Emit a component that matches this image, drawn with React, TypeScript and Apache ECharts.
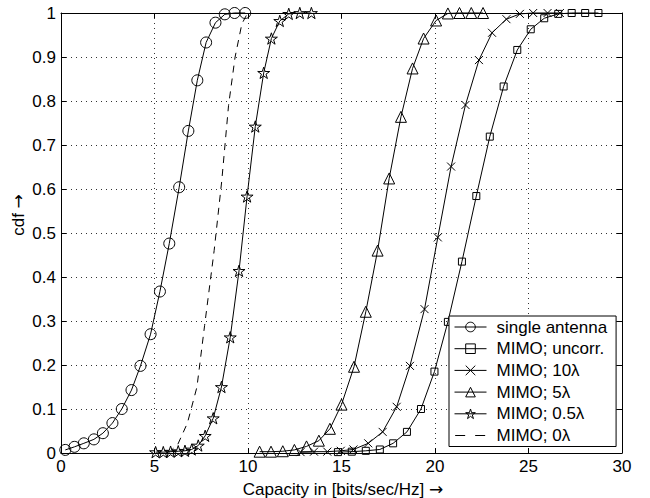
import React, { useEffect, useRef } from "react";
import * as echarts from "echarts";

// ---- data ----
const xTicks = [0, 5, 10, 15, 20, 25, 30];
const yTicks = [0, 0.1, 0.2, 0.3, 0.4, 0.5, 0.6, 0.7, 0.8, 0.9, 1];

const seriesNames = [
  "single antenna",
  "MIMO; uncorr.",
  "MIMO; 10λ",
  "MIMO; 5λ",
  "MIMO; 0.5λ",
  "MIMO; 0λ",
];

const singleX = [0.23, 0.72, 1.22, 1.76, 2.24, 2.75, 3.25, 3.77, 4.25, 4.79, 5.29, 5.79, 6.32, 6.81, 7.29, 7.76, 8.26, 8.76, 9.28, 9.85];
const singleY = [0.007, 0.014, 0.022, 0.031, 0.045, 0.068, 0.1, 0.143, 0.198, 0.27, 0.367, 0.476, 0.604, 0.732, 0.847, 0.933, 0.978, 0.997, 1.0, 1.0];

const uncorrX = [14.81, 15.55, 16.3, 17.05, 17.76, 18.5, 19.25, 19.97, 20.69, 21.44, 22.21, 22.93, 23.67, 24.4, 25.12, 25.84, 26.59, 27.31, 28.03, 28.74];
const uncorrY = [0.002, 0.003, 0.005, 0.008, 0.022, 0.048, 0.1, 0.185, 0.298, 0.435, 0.584, 0.719, 0.833, 0.916, 0.963, 0.988, 0.998, 1, 1, 1];

const tenX = [12.81, 13.53, 14.24, 14.96, 15.64, 16.43, 17.2, 17.95, 18.66, 19.44, 20.15, 20.86, 21.63, 22.35, 23.05, 23.82, 24.54, 25.25, 26.02, 26.68];
const tenY = [0.002, 0.003, 0.003, 0.005, 0.008, 0.022, 0.048, 0.105, 0.198, 0.327, 0.49, 0.651, 0.791, 0.893, 0.955, 0.986, 0.998, 1, 1, 1];

const fiveX = [10.62, 11.23, 11.86, 12.48, 13.13, 13.79, 14.38, 15.0, 15.67, 16.3, 16.93, 17.55, 18.18, 18.8, 19.39, 20.06, 20.69, 21.31, 21.94, 22.57];
const fiveY = [0.003, 0.003, 0.004, 0.007, 0.015, 0.028, 0.055, 0.11, 0.196, 0.321, 0.46, 0.624, 0.764, 0.874, 0.942, 0.983, 0.999, 1, 1, 1];

const halfX = [5.06, 5.47, 5.86, 6.27, 6.63, 6.99, 7.34, 7.71, 8.14, 8.58, 9.05, 9.52, 9.95, 10.39, 10.84, 11.25, 11.7, 12.18, 12.77, 13.39];
const halfY = [0.002, 0.002, 0.003, 0.004, 0.005, 0.008, 0.017, 0.039, 0.079, 0.15, 0.263, 0.414, 0.583, 0.742, 0.864, 0.942, 0.982, 0.998, 1, 1];

const zeroX = [5.74, 6.25, 6.76, 7.27, 7.68, 8.19, 8.6, 8.96, 9.31, 9.67, 9.98];
const zeroY = [0.0, 0.02, 0.068, 0.15, 0.29, 0.46, 0.62, 0.79, 0.9, 0.975, 1.0];

const FONT = "'Liberation Sans', Arial, Helvetica, sans-serif";
const FS = 17;
const STAR =
  "path://M50 0 L61.17 34.63 L97.55 34.55 L68.07 55.87 L79.39 90.45 L50 69 L20.61 90.45 L31.93 55.87 L2.45 34.55 L38.83 34.63 Z";
const CROSS = "path://M0 0 L10 10 M10 0 L0 10";
const DASH_ICON = "path://M0 0 M96 36 M2 18 L32 18 M62 18 L92 18";

function mk(name: string, xs: number[], ys: number[], symbol: string, size: number, dashed = false) {
  return {
    type: "line",
    name,
    data: xs.map((x, i) => [x, ys[i]]),
    symbol,
    symbolSize: size,
    showSymbol: symbol !== "none",
    symbolKeepAspect: true,
    smooth: false,
    clip: false,
    lineStyle: { color: "#000", width: 1, type: dashed ? [7, 6] : "solid" },
    itemStyle: { color: "rgba(0,0,0,0)", borderColor: "#000", borderWidth: 1 },
    emphasis: { disabled: true },
    silent: true,
  };
}

export default function App() {
  const ref = useRef<HTMLDivElement>(null);
  useEffect(() => {
    document.body.style.margin = "0";
    const chart = echarts.init(ref.current!, null, { renderer: "svg" });
    const axisCommon = {
      type: "value",
      axisLine: { show: true, onZero: false, lineStyle: { color: "#000", width: 1 } },
      axisTick: { show: true, inside: true, length: 5, lineStyle: { color: "#000" } },
    };
    const arrowRich = { a: { fontFamily: "'DejaVu Sans', sans-serif", fontSize: FS, fill: "#000" } };
    chart.setOption({
      animation: false,
      backgroundColor: "#fff",
      textStyle: { fontFamily: FONT },
      grid: { left: 61, right: 28, top: 13, bottom: 45, show: false },
      xAxis: [
        {
          ...axisCommon,
          min: 0,
          max: 30,
          interval: 5,
          position: "bottom",
          axisLabel: { color: "#000", fontSize: FS, fontFamily: FONT, margin: 5, formatter: (v: number) => (xTicks.includes(v) ? String(v) : "") },
          splitLine: { show: true, lineStyle: { color: "#333", width: 1, type: [1, 4] } },
        },
        {
          ...axisCommon,
          min: 0,
          max: 30,
          interval: 5,
          position: "top",
          axisLabel: { show: false },
          splitLine: { show: false },
        },
      ],
      yAxis: [
        {
          ...axisCommon,
          min: 0,
          max: 1,
          interval: 0.1,
          position: "left",
          axisLabel: {
            color: "#000",
            fontSize: FS,
            fontFamily: FONT,
            margin: 5,
            formatter: (v: number) => {
              const t = yTicks.find((y) => Math.abs(y - v) < 1e-6);
              return t === undefined ? "" : String(t);
            },
          },
          splitLine: { show: true, lineStyle: { color: "#333", width: 1, type: [1, 4] } },
        },
        {
          ...axisCommon,
          min: 0,
          max: 1,
          interval: 0.1,
          position: "right",
          axisLabel: { show: false },
          splitLine: { show: false },
        },
      ],
      legend: {
        orient: "vertical",
        left: 449,
        top: 316,
        itemWidth: 32,
        itemHeight: 12,
        itemGap: 3.7,
        padding: [2, 9, 2, 5],
        backgroundColor: "#fff",
        borderColor: "#000",
        borderWidth: 1,
        borderRadius: 0,
        selectedMode: false,
        itemStyle: { color: "rgba(0,0,0,0)", borderColor: "#000", borderWidth: 1 },
        lineStyle: { color: "#000", width: 1 },
        textStyle: { fontSize: FS, color: "#000", fontFamily: FONT, lineHeight: 18, padding: [0, 0, 0, 5] },
        data: [
          seriesNames[0],
          seriesNames[1],
          seriesNames[2],
          seriesNames[3],
          seriesNames[4],
          { name: seriesNames[5], icon: DASH_ICON },
        ],
      },
      graphic: [
        {
          type: "text",
          x: 18,
          y: 215,
          rotation: Math.PI / 2,
          style: { text: "cdf {a|→}", rich: arrowRich, fontSize: FS, fontFamily: FONT, fill: "#000", align: "center", verticalAlign: "middle" },
        },
        {
          type: "text",
          x: 343,
          y: 489,
          style: { text: "Capacity in [bits/sec/Hz] {a|→}", rich: arrowRich, fontSize: FS, fontFamily: FONT, fill: "#000", align: "center", verticalAlign: "middle" },
        },
      ],
      series: [
        mk(seriesNames[0], singleX, singleY, "circle", 11),
        mk(seriesNames[1], uncorrX, uncorrY, "rect", 7),
        mk(seriesNames[2], tenX, tenY, CROSS, 8),
        mk(seriesNames[3], fiveX, fiveY, "triangle", 11),
        mk(seriesNames[4], halfX, halfY, STAR, 12),
        mk(seriesNames[5], zeroX, zeroY, "none", 0, true),
      ],
    });
    return () => chart.dispose();
  }, []);
  return <div ref={ref} style={{ position: "fixed", left: 0, top: 0, width: 650, height: 498 }} />;
}
